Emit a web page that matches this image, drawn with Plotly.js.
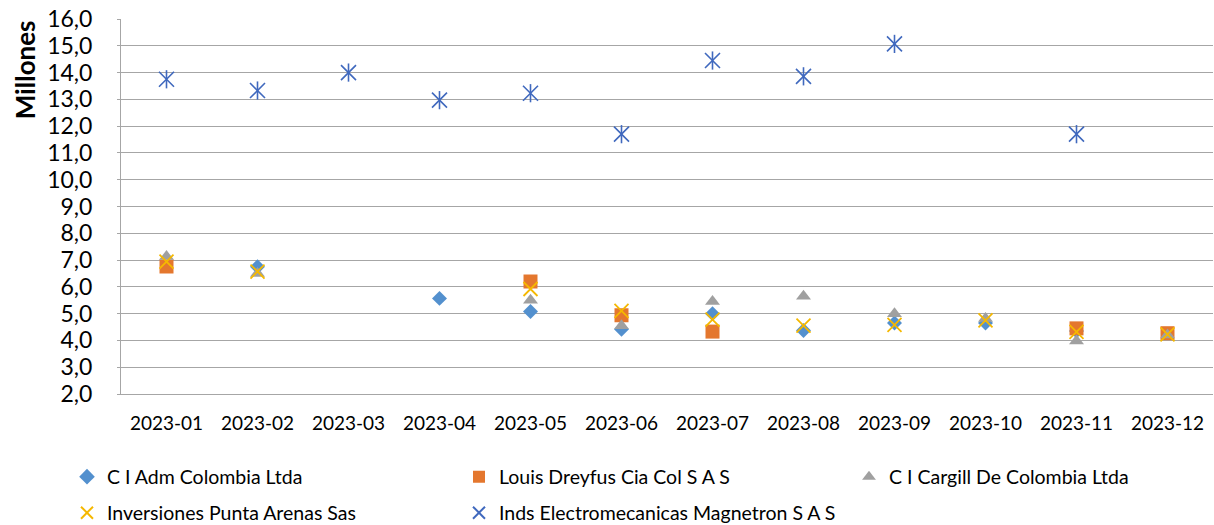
<!DOCTYPE html>
<html>
<head>
<meta charset="utf-8">
<script src="https://cdn.plot.ly/plotly-3.0.1.min.js"></script>
<style>html,body{margin:0;padding:0;background:#fff;}#chart{width:1214px;height:525px;}</style>
</head>
<body>
<div id="chart"></div>
<script>
const months = ['2023-01','2023-02','2023-03','2023-04','2023-05','2023-06','2023-07','2023-08','2023-09','2023-10','2023-11','2023-12'];
const seriesNames = ['C I Adm Colombia Ltda','Louis Dreyfus Cia Col S A S','C I Cargill De Colombia Ltda','Inversiones Punta Arenas Sas','Inds Electromecanicas Magnetron S A S'];
const adm       = [null, 6.75, null, 5.57, 5.08, 4.42, 5.00, 4.37, 4.65, 4.65, 4.35, null];
const dreyfus   = [6.76, null, null, null, 6.20, 4.94, 4.33, null, null, null, 4.45, 4.27];
const cargill   = [7.13, 6.50, null, null, 5.50, 4.55, 5.45, 5.65, 5.00, 4.82, 3.98, 4.20];
const punta     = [6.94, 6.57, null, null, 5.92, 5.10, 4.78, 4.55, 4.58, 4.75, 4.32, 4.23];
const magnetron = [13.75, 13.33, 14.00, 12.97, 13.23, 11.70, 14.45, 13.86, 15.07, null, 11.70, null];
const yTicks = [2,3,4,5,6,7,8,9,10,11,12,13,14,15,16];

const font = 'Lato, "Open Sans", sans-serif';
const traces = [
  {x: months, y: adm, name: seriesNames[0], type: 'scatter', mode: 'markers', legend: 'legend',
   marker: {symbol: 'diamond', size: 11.5, color: '#5390CE'}},
  {x: months, y: dreyfus, name: seriesNames[1], type: 'scatter', mode: 'markers', legend: 'legend2',
   marker: {symbol: 'square', size: 14, color: '#E4772E'}},
  {x: months, y: cargill, name: seriesNames[2], type: 'scatter', mode: 'markers', legend: 'legend3',
   marker: {symbol: 'triangle-up', size: 13, color: '#A0A0A0'}},
  {x: months, y: punta, name: seriesNames[3], type: 'scatter', mode: 'markers', legend: 'legend4',
   marker: {symbol: 'x-thin-open', size: 14, color: '#F5B800', line: {color: '#F5B800', width: 1.8}}},
  {x: months, y: magnetron, name: seriesNames[4], type: 'scatter', mode: 'markers', legend: 'legend5',
   marker: {symbol: 'x-thin-open', size: 15, color: '#4069BE', line: {color: '#4069BE', width: 1.6}}},
  {x: months, y: magnetron, name: seriesNames[4], type: 'scatter', mode: 'markers', showlegend: false, hoverinfo: 'skip',
   marker: {symbol: 'line-ns-open', size: 13, color: '#4069BE', line: {color: '#4069BE', width: 1.6}}}
];

function mkLegend(px, py) {
  return {
    orientation: 'h', xref: 'container', yref: 'container',
    x: px / 1214, xanchor: 'left', y: 1 - py / 525, yanchor: 'middle',
    font: {family: font, size: 19.5, color: '#000'},
    itemsizing: 'constant', bgcolor: 'rgba(0,0,0,0)', borderwidth: 0
  };
}

const layout = {
  width: 1214, height: 525,
  margin: {l: 121, r: 1, t: 19, b: 131},
  paper_bgcolor: '#ffffff', plot_bgcolor: '#ffffff',
  separators: ',.',
  font: {family: font, size: 18, color: '#000000'},
  showlegend: true,
  xaxis: {
    type: 'category', categoryorder: 'array', categoryarray: months,
    range: [-0.5, 11.5], showgrid: false, zeroline: false,
    showline: true, linecolor: '#A6A6A6', linewidth: 1,
    ticks: '', ticklabelstandoff: 12,
    tickfont: {family: font, size: 19, color: '#000'}
  },
  yaxis: {
    range: [2, 16], tickvals: yTicks, tickformat: '.1f',
    showgrid: true, gridcolor: '#A6A6A6', gridwidth: 1, zeroline: false,
    showline: true, linecolor: '#A6A6A6', linewidth: 1,
    ticks: 'outside', ticklen: 3, tickcolor: '#A6A6A6', ticklabelstandoff: 20,
    tickfont: {family: font, size: 23, color: '#000'}
  },
  annotations: [{
    text: '<b>Millones</b>', textangle: -90, showarrow: false,
    xref: 'paper', yref: 'paper', x: -0.088, xanchor: 'center', y: 1.003, yanchor: 'top',
    font: {family: font, size: 26, color: '#000'}
  }],
  legend:  mkLegend(67, 477),
  legend2: mkLegend(459, 477),
  legend3: mkLegend(849, 477),
  legend4: mkLegend(67, 513),
  legend5: mkLegend(459, 513)
};

Plotly.newPlot('chart', traces, layout, {displayModeBar: false, staticPlot: true});
</script>
</body>
</html>
